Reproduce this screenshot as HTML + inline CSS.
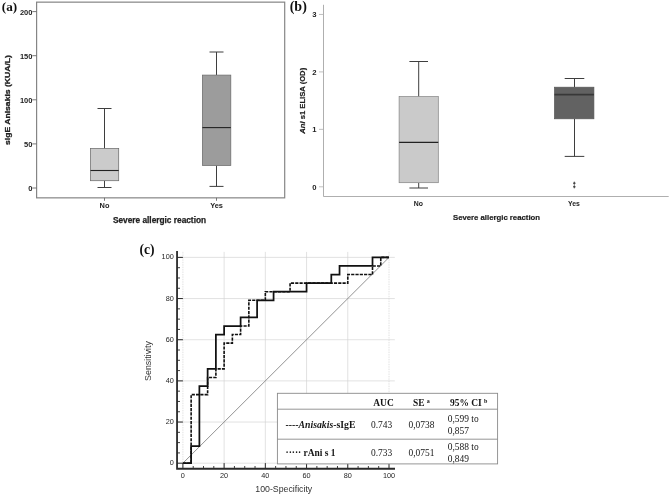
<!DOCTYPE html>
<html><head><meta charset="utf-8"><title>Figure</title>
<style>html,body{margin:0;padding:0;background:#fff}svg{display:block;will-change:transform;opacity:0.999}text{font-family:"Liberation Sans", Arial, sans-serif}.ser,.ser text,.ser tspan{font-family:"Liberation Serif", "Times New Roman", serif}</style></head><body>
<svg width="672" height="495" viewBox="0 0 672 495">
<rect width="672" height="495" fill="#fff"/>
<g id="pa">
<text class="ser" x="1.8" y="10.6" font-size="13.2" font-weight="bold" fill="#111">(a)</text>
<rect x="36.6" y="2.15" width="248.1" height="195.7" fill="none" stroke="#858585" stroke-width="1.2"/>
<line x1="32.3" x2="36.6" y1="188.00" y2="188.00" stroke="#6a6a6a" stroke-width="0.9"/>
<text x="32.4" y="191.00" font-size="7.5" font-weight="bold" text-anchor="end" fill="#222">0</text>
<line x1="32.3" x2="36.6" y1="143.90" y2="143.90" stroke="#6a6a6a" stroke-width="0.9"/>
<text x="32.4" y="146.90" font-size="7.5" font-weight="bold" text-anchor="end" fill="#222">50</text>
<line x1="32.3" x2="36.6" y1="99.80" y2="99.80" stroke="#6a6a6a" stroke-width="0.9"/>
<text x="32.4" y="102.80" font-size="7.5" font-weight="bold" text-anchor="end" fill="#222">100</text>
<line x1="32.3" x2="36.6" y1="55.70" y2="55.70" stroke="#6a6a6a" stroke-width="0.9"/>
<text x="32.4" y="58.70" font-size="7.5" font-weight="bold" text-anchor="end" fill="#222">150</text>
<line x1="32.3" x2="36.6" y1="11.60" y2="11.60" stroke="#6a6a6a" stroke-width="0.9"/>
<text x="32.4" y="14.60" font-size="7.5" font-weight="bold" text-anchor="end" fill="#222">200</text>
<line x1="104.50" x2="104.50" y1="108.50" y2="148.50" stroke="#3e3e3e" stroke-width="1.00"/><line x1="104.50" x2="104.50" y1="180.70" y2="187.50" stroke="#3e3e3e" stroke-width="1.00"/><line x1="97.50" x2="111.50" y1="108.50" y2="108.50" stroke="#3e3e3e" stroke-width="1.00"/><line x1="97.50" x2="111.50" y1="187.50" y2="187.50" stroke="#3e3e3e" stroke-width="1.00"/><rect x="90.50" y="148.50" width="28.20" height="32.20" fill="#cbcbcb" stroke="#6c6c6c" stroke-width="0.75"/><line x1="90.50" x2="118.70" y1="170.50" y2="170.50" stroke="#222" stroke-width="1.10"/>
<line x1="216.50" x2="216.50" y1="52.00" y2="75.10" stroke="#3e3e3e" stroke-width="1.00"/><line x1="216.50" x2="216.50" y1="165.50" y2="186.40" stroke="#3e3e3e" stroke-width="1.00"/><line x1="209.50" x2="223.50" y1="52.00" y2="52.00" stroke="#3e3e3e" stroke-width="1.00"/><line x1="209.50" x2="223.50" y1="186.40" y2="186.40" stroke="#3e3e3e" stroke-width="1.00"/><rect x="202.40" y="75.10" width="28.40" height="90.40" fill="#9c9c9c" stroke="#6c6c6c" stroke-width="0.75"/><line x1="202.40" x2="230.80" y1="127.60" y2="127.60" stroke="#222" stroke-width="1.10"/>
<line x1="104.5" x2="104.5" y1="197.8" y2="200.8" stroke="#6a6a6a" stroke-width="0.9"/>
<text x="104.5" y="208.3" font-size="7.4" font-weight="bold" text-anchor="middle" fill="#222">No</text>
<line x1="216.5" x2="216.5" y1="197.8" y2="200.8" stroke="#6a6a6a" stroke-width="0.9"/>
<text x="216.5" y="208.3" font-size="7.4" font-weight="bold" text-anchor="middle" fill="#222">Yes</text>
<text x="159.5" y="223.3" font-size="8.3" font-weight="bold" text-anchor="middle" fill="#222" stroke="#222" stroke-width="0.25">Severe allergic reaction</text>
<text transform="translate(10.1 100) rotate(-90) scale(1 0.9)" font-size="8.6" font-weight="bold" text-anchor="middle" fill="#222" stroke="#222" stroke-width="0.3">sIgE Anisakis (KUA/L)</text>
</g>
<g id="pb">
<text class="ser" x="289.7" y="10.9" font-size="14" font-weight="bold" fill="#111">(b)</text>
<path d="M323.5 4.8 V196.5 H668.7" fill="none" stroke="#9a9a9a" stroke-width="0.8"/>
<line x1="319" x2="323.5" y1="186.80" y2="186.80" stroke="#b0b0b0" stroke-width="0.8"/>
<text x="316.6" y="189.80" font-size="7.7" font-weight="bold" text-anchor="end" fill="#222">0</text>
<line x1="319" x2="323.5" y1="129.35" y2="129.35" stroke="#b0b0b0" stroke-width="0.8"/>
<text x="316.6" y="132.35" font-size="7.7" font-weight="bold" text-anchor="end" fill="#222">1</text>
<line x1="319" x2="323.5" y1="71.90" y2="71.90" stroke="#b0b0b0" stroke-width="0.8"/>
<text x="316.6" y="74.90" font-size="7.7" font-weight="bold" text-anchor="end" fill="#222">2</text>
<line x1="319" x2="323.5" y1="14.45" y2="14.45" stroke="#b0b0b0" stroke-width="0.8"/>
<text x="316.6" y="17.45" font-size="7.7" font-weight="bold" text-anchor="end" fill="#222">3</text>
<line x1="418.70" x2="418.70" y1="61.50" y2="96.60" stroke="#3e3e3e" stroke-width="1.00"/><line x1="418.70" x2="418.70" y1="182.70" y2="188.00" stroke="#3e3e3e" stroke-width="1.00"/><line x1="409.40" x2="428.00" y1="61.50" y2="61.50" stroke="#3e3e3e" stroke-width="1.00"/><line x1="409.40" x2="428.00" y1="188.00" y2="188.00" stroke="#3e3e3e" stroke-width="1.00"/><rect x="399.10" y="96.60" width="39.20" height="86.10" fill="#cacaca" stroke="#828282" stroke-width="0.70"/><line x1="399.10" x2="438.30" y1="142.40" y2="142.40" stroke="#222" stroke-width="1.10"/>
<line x1="574.50" x2="574.50" y1="78.50" y2="87.20" stroke="#3e3e3e" stroke-width="1.00"/><line x1="574.50" x2="574.50" y1="118.80" y2="156.40" stroke="#3e3e3e" stroke-width="1.00"/><line x1="564.70" x2="584.30" y1="78.50" y2="78.50" stroke="#3e3e3e" stroke-width="1.00"/><line x1="564.70" x2="584.30" y1="156.40" y2="156.40" stroke="#3e3e3e" stroke-width="1.00"/><rect x="554.50" y="87.20" width="39.40" height="31.60" fill="#626262" stroke="#565656" stroke-width="0.70"/><line x1="554.50" x2="593.90" y1="94.60" y2="94.60" stroke="#383838" stroke-width="1.60"/>
<path d="M573 183.2 H575.6 M574.3 181.7 V184.7" fill="none" stroke="#333" stroke-width="0.95"/>
<path d="M573 186.8 H575.6 M574.3 185.3 V188.3" fill="none" stroke="#333" stroke-width="0.95"/>
<text x="418.4" y="205.9" font-size="6.9" font-weight="bold" text-anchor="middle" fill="#222">No</text>
<text x="574.0" y="205.9" font-size="6.9" font-weight="bold" text-anchor="middle" fill="#222">Yes</text>
<text x="496.5" y="220.4" font-size="7.75" font-weight="bold" text-anchor="middle" fill="#222" stroke="#222" stroke-width="0.2">Severe allergic reaction</text>
<text transform="translate(304.9 100.8) rotate(-90)" font-size="7.65" font-weight="bold" text-anchor="middle" fill="#222" stroke="#222" stroke-width="0.2"><tspan font-style="italic">Ani</tspan> s1 ELISA (OD)</text>
</g>
<g id="pc">
<text class="ser" x="139.4" y="253.9" font-size="13.6" font-weight="bold" fill="#111">(c)</text>
<line x1="224.12" x2="224.12" y1="251.90" y2="468.70" stroke="#d2d2d2" stroke-width="0.65"/>
<line x1="265.34" x2="265.34" y1="251.90" y2="468.70" stroke="#d2d2d2" stroke-width="0.65"/>
<line x1="306.56" x2="306.56" y1="251.90" y2="468.70" stroke="#d2d2d2" stroke-width="0.65"/>
<line x1="347.78" x2="347.78" y1="251.90" y2="468.70" stroke="#d2d2d2" stroke-width="0.65"/>
<line x1="182.90" x2="182.90" y1="251.90" y2="468.70" stroke="#c0c0c0" stroke-width="0.6" stroke-dasharray="0.8 0.9"/>
<line x1="389.00" x2="389.00" y1="251.90" y2="468.70" stroke="#c0c0c0" stroke-width="0.6" stroke-dasharray="0.8 0.9"/>
<line x1="177.90" x2="394.80" y1="463.20" y2="463.20" stroke="#d2d2d2" stroke-width="0.65"/>
<line x1="177.90" x2="394.80" y1="422.04" y2="422.04" stroke="#d2d2d2" stroke-width="0.65"/>
<line x1="177.90" x2="394.80" y1="380.88" y2="380.88" stroke="#d2d2d2" stroke-width="0.65"/>
<line x1="177.90" x2="394.80" y1="339.72" y2="339.72" stroke="#d2d2d2" stroke-width="0.65"/>
<line x1="177.90" x2="394.80" y1="298.56" y2="298.56" stroke="#d2d2d2" stroke-width="0.65"/>
<line x1="177.90" x2="394.80" y1="257.40" y2="257.40" stroke="#d2d2d2" stroke-width="0.65"/>
<line x1="182.90" y1="463.20" x2="389.00" y2="257.40" stroke="#7e7e7e" stroke-width="0.85"/>
<path d="M182.90 463.20 L191.14 463.20 L191.14 394.60 L207.63 394.60 L207.63 377.45 L215.88 377.45 L215.88 368.88 L224.12 368.88 L224.12 343.15 L232.36 343.15 L232.36 334.57 L240.61 334.57 L240.61 326.00 L248.85 326.00 L248.85 300.27 L265.34 300.27 L265.34 291.70 L290.07 291.70 L290.07 283.12 L347.78 283.12 L347.78 274.55 L372.51 274.55 L372.51 265.97 L380.76 265.97 L380.76 257.40 L389.00 257.40" fill="none" stroke="#111" stroke-width="1.6" stroke-dasharray="3.2 1.1"/>
<path d="M182.90 463.20 L191.14 463.20 L191.14 446.05 L199.39 446.05 L199.39 386.02 L207.63 386.02 L207.63 368.88 L215.88 368.88 L215.88 334.57 L224.12 334.57 L224.12 326.00 L240.61 326.00 L240.61 317.42 L257.10 317.42 L257.10 300.27 L273.58 300.27 L273.58 291.70 L306.56 291.70 L306.56 283.12 L331.29 283.12 L331.29 274.55 L339.54 274.55 L339.54 265.97 L372.51 265.97 L372.51 257.40 L389.00 257.40" fill="none" stroke="#111" stroke-width="1.75" stroke-linejoin="miter"/>
<path d="M177.05 250.9 V468.75 H395" fill="none" stroke="#2a2a2a" stroke-width="1.8"/>
<line x1="177" x2="182.90" y1="463.20" y2="463.20" stroke="#2a2a2a" stroke-width="1.00"/>
<line x1="182.90" x2="182.90" y1="468.75" y2="463.10" stroke="#2a2a2a" stroke-width="1.00"/>
<line x1="177" x2="180.00" y1="452.91" y2="452.91" stroke="#2a2a2a" stroke-width="0.90"/>
<line x1="193.21" x2="193.21" y1="468.75" y2="466.00" stroke="#2a2a2a" stroke-width="0.90"/>
<line x1="177" x2="180.00" y1="442.62" y2="442.62" stroke="#2a2a2a" stroke-width="0.90"/>
<line x1="203.51" x2="203.51" y1="468.75" y2="466.00" stroke="#2a2a2a" stroke-width="0.90"/>
<line x1="177" x2="180.00" y1="432.33" y2="432.33" stroke="#2a2a2a" stroke-width="0.90"/>
<line x1="213.81" x2="213.81" y1="468.75" y2="466.00" stroke="#2a2a2a" stroke-width="0.90"/>
<line x1="177" x2="182.90" y1="422.04" y2="422.04" stroke="#2a2a2a" stroke-width="1.00"/>
<line x1="224.12" x2="224.12" y1="468.75" y2="463.10" stroke="#2a2a2a" stroke-width="1.00"/>
<line x1="177" x2="180.00" y1="411.75" y2="411.75" stroke="#2a2a2a" stroke-width="0.90"/>
<line x1="234.43" x2="234.43" y1="468.75" y2="466.00" stroke="#2a2a2a" stroke-width="0.90"/>
<line x1="177" x2="180.00" y1="401.46" y2="401.46" stroke="#2a2a2a" stroke-width="0.90"/>
<line x1="244.73" x2="244.73" y1="468.75" y2="466.00" stroke="#2a2a2a" stroke-width="0.90"/>
<line x1="177" x2="180.00" y1="391.17" y2="391.17" stroke="#2a2a2a" stroke-width="0.90"/>
<line x1="255.04" x2="255.04" y1="468.75" y2="466.00" stroke="#2a2a2a" stroke-width="0.90"/>
<line x1="177" x2="182.90" y1="380.88" y2="380.88" stroke="#2a2a2a" stroke-width="1.00"/>
<line x1="265.34" x2="265.34" y1="468.75" y2="463.10" stroke="#2a2a2a" stroke-width="1.00"/>
<line x1="177" x2="180.00" y1="370.59" y2="370.59" stroke="#2a2a2a" stroke-width="0.90"/>
<line x1="275.64" x2="275.64" y1="468.75" y2="466.00" stroke="#2a2a2a" stroke-width="0.90"/>
<line x1="177" x2="180.00" y1="360.30" y2="360.30" stroke="#2a2a2a" stroke-width="0.90"/>
<line x1="285.95" x2="285.95" y1="468.75" y2="466.00" stroke="#2a2a2a" stroke-width="0.90"/>
<line x1="177" x2="180.00" y1="350.01" y2="350.01" stroke="#2a2a2a" stroke-width="0.90"/>
<line x1="296.25" x2="296.25" y1="468.75" y2="466.00" stroke="#2a2a2a" stroke-width="0.90"/>
<line x1="177" x2="182.90" y1="339.72" y2="339.72" stroke="#2a2a2a" stroke-width="1.00"/>
<line x1="306.56" x2="306.56" y1="468.75" y2="463.10" stroke="#2a2a2a" stroke-width="1.00"/>
<line x1="177" x2="180.00" y1="329.43" y2="329.43" stroke="#2a2a2a" stroke-width="0.90"/>
<line x1="316.87" x2="316.87" y1="468.75" y2="466.00" stroke="#2a2a2a" stroke-width="0.90"/>
<line x1="177" x2="180.00" y1="319.14" y2="319.14" stroke="#2a2a2a" stroke-width="0.90"/>
<line x1="327.17" x2="327.17" y1="468.75" y2="466.00" stroke="#2a2a2a" stroke-width="0.90"/>
<line x1="177" x2="180.00" y1="308.85" y2="308.85" stroke="#2a2a2a" stroke-width="0.90"/>
<line x1="337.48" x2="337.48" y1="468.75" y2="466.00" stroke="#2a2a2a" stroke-width="0.90"/>
<line x1="177" x2="182.90" y1="298.56" y2="298.56" stroke="#2a2a2a" stroke-width="1.00"/>
<line x1="347.78" x2="347.78" y1="468.75" y2="463.10" stroke="#2a2a2a" stroke-width="1.00"/>
<line x1="177" x2="180.00" y1="288.27" y2="288.27" stroke="#2a2a2a" stroke-width="0.90"/>
<line x1="358.09" x2="358.09" y1="468.75" y2="466.00" stroke="#2a2a2a" stroke-width="0.90"/>
<line x1="177" x2="180.00" y1="277.98" y2="277.98" stroke="#2a2a2a" stroke-width="0.90"/>
<line x1="368.39" x2="368.39" y1="468.75" y2="466.00" stroke="#2a2a2a" stroke-width="0.90"/>
<line x1="177" x2="180.00" y1="267.69" y2="267.69" stroke="#2a2a2a" stroke-width="0.90"/>
<line x1="378.69" x2="378.69" y1="468.75" y2="466.00" stroke="#2a2a2a" stroke-width="0.90"/>
<line x1="177" x2="182.90" y1="257.40" y2="257.40" stroke="#2a2a2a" stroke-width="1.00"/>
<line x1="389.00" x2="389.00" y1="468.75" y2="463.10" stroke="#2a2a2a" stroke-width="1.00"/>
<text x="173.8" y="465.20" font-size="7.3" text-anchor="end" fill="#262626">0</text>
<text x="182.90" y="477.9" font-size="7.3" text-anchor="middle" fill="#262626">0</text>
<text x="173.8" y="424.04" font-size="7.3" text-anchor="end" fill="#262626">20</text>
<text x="224.12" y="477.9" font-size="7.3" text-anchor="middle" fill="#262626">20</text>
<text x="173.8" y="382.88" font-size="7.3" text-anchor="end" fill="#262626">40</text>
<text x="265.34" y="477.9" font-size="7.3" text-anchor="middle" fill="#262626">40</text>
<text x="173.8" y="341.72" font-size="7.3" text-anchor="end" fill="#262626">60</text>
<text x="306.56" y="477.9" font-size="7.3" text-anchor="middle" fill="#262626">60</text>
<text x="173.8" y="300.56" font-size="7.3" text-anchor="end" fill="#262626">80</text>
<text x="347.78" y="477.9" font-size="7.3" text-anchor="middle" fill="#262626">80</text>
<text x="173.8" y="259.40" font-size="7.3" text-anchor="end" fill="#262626">100</text>
<text x="389.00" y="477.9" font-size="7.3" text-anchor="middle" fill="#262626">100</text>
<text transform="translate(151.4 361) rotate(-90)" font-size="8.9" text-anchor="middle" fill="#333">Sensitivity</text>
<text x="283.8" y="491.6" font-size="8.75" text-anchor="middle" fill="#333">100-Specificity</text>
<rect x="277.4" y="393.3" width="220.2" height="70.6" fill="#fff" stroke="#8a8a8a" stroke-width="0.9"/>
<line x1="277.4" x2="497.6" y1="409.2" y2="409.2" stroke="#8a8a8a" stroke-width="0.9"/>
<line x1="277.4" x2="497.6" y1="439.2" y2="439.2" stroke="#8a8a8a" stroke-width="0.9"/>
<g class="ser" font-size="9.45" fill="#151515">
<text x="383.5" y="405.9" font-weight="bold" text-anchor="middle">AUC</text>
<text x="412.9" y="405.9" font-weight="bold">SE <tspan font-size="6" dy="-3">a</tspan></text>
<text x="450" y="405.9" font-weight="bold">95% CI <tspan font-size="6" dy="-3">b</tspan></text>
<text x="285.5" y="428" font-weight="bold" font-size="9.75">----<tspan font-style="italic">Anisakis</tspan>-sIgE</text>
<text x="381.6" y="428" text-anchor="middle">0.743</text>
<text x="421.5" y="428" text-anchor="middle">0,0738</text>
<text x="447.7" y="421.9">0,599 to</text>
<text x="447.7" y="433.6">0,857</text>
<text x="285.5" y="455.5" font-weight="bold">····· rAni s 1</text>
<text x="381.6" y="455.5" text-anchor="middle">0.733</text>
<text x="421.5" y="455.5" text-anchor="middle">0,0751</text>
<text x="447.7" y="450.4">0,588 to</text>
<text x="447.7" y="461.6">0,849</text>
</g>
</g>
</svg></body></html>
